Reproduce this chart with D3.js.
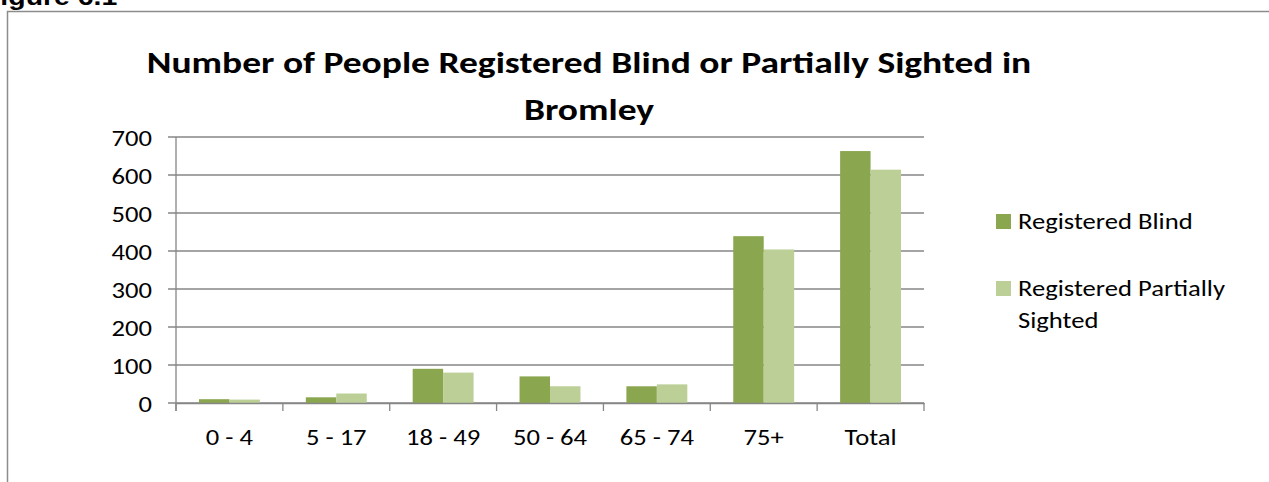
<!DOCTYPE html>
<html>
<head>
<meta charset="utf-8">
<script src="https://cdn.jsdelivr.net/npm/d3@7"></script>
<style>
  body { margin: 0; background: #ffffff; }
  text { font-family: Carlito, Lato, "Open Sans", sans-serif; }
</style>
</head>
<body>
<div id="canvas"></div>
<script>
"use strict"

// chart values
let categories = ["0 - 4", "5 - 17", "18 - 49", "50 - 64", "65 - 74", "75+", "Total"];
let blindValues = [10, 15, 90, 70, 44, 439, 663];
let partialValues = [9, 25, 80, 44, 49, 404, 614];
let seriesNames = ["Registered Blind", "Registered Partially Sighted"];
let yTicks = [0, 100, 200, 300, 400, 500, 600, 700];

let drawingWidth = 1269;
let drawingHeight = 482;

let plotLeft = 176;
let plotRight = 924;
let plotTop = 137;
let plotBottom = 403;

let stretch = 1.21; // the picture is wider than the font, so text is stretched sideways

let blindColour = "#8aa64f";
let partialColour = "#bbcf97";
let lineColour = "#868686";

let drawing = d3.select("#canvas")
    .append("svg")
    .attr("width", drawingWidth)
    .attr("height", drawingHeight);

function place(x, y) {
    return "translate(" + x + "," + y + ") scale(" + stretch + ",1)";
}

/* figure caption, cut off at the top left like the picture */
drawing.append("text")
    .attr("transform", place(-17, 5))
    .style("font-family", "'Liberation Sans', Arial, sans-serif")
    .attr("font-weight", "bold")
    .attr("font-size", 23.5)
    .attr("fill", "#000")
    .text("Figure 6.1");

/* frame round the chart */
drawing.append("path")
    .attr("d", "M7.5," + drawingHeight + " V11.5 H" + drawingWidth)
    .attr("fill", "none")
    .attr("stroke", "#8c8c8c")
    .attr("stroke-width", 1.5);

/* title */
drawing.append("text")
    .attr("transform", place(589, 73))
    .attr("text-anchor", "middle")
    .attr("font-weight", "bold")
    .attr("font-size", 31)
    .attr("fill", "#000")
    .text("Number of People Registered Blind or Partially Sighted in");
drawing.append("text")
    .attr("transform", place(589, 120))
    .attr("text-anchor", "middle")
    .attr("font-weight", "bold")
    .attr("font-size", 31)
    .attr("fill", "#000")
    .text("Bromley");

let x = d3.scaleBand()
    .domain(categories)
    .range([plotLeft, plotRight])
    .paddingInner(0.43)
    .paddingOuter(0.215);

let xInner = d3.scaleBand()
    .domain(seriesNames)
    .range([0, x.bandwidth()]);

let y = d3.scaleLinear()
    .domain([0, 700])
    .range([plotBottom, plotTop]);

/* gridlines */
drawing.append("g")
    .selectAll("line")
    .data(yTicks)
    .join("line")
    .attr("x1", plotLeft - 8)
    .attr("x2", plotRight)
    .attr("y1", d => y(d))
    .attr("y2", d => y(d))
    .attr("stroke", lineColour)
    .attr("stroke-width", 1.3);

/* y axis labels */
drawing.append("g")
    .selectAll("text")
    .data(yTicks)
    .join("text")
    .attr("transform", d => place(152, y(d) + 8.5))
    .attr("text-anchor", "end")
    .attr("font-size", 22)
    .attr("fill", "#000")
    .text(d => d);

/* bars */
let barData = [];
categories.forEach(function (c, i) {
    barData.push({ cat: c, series: seriesNames[0], value: blindValues[i], colour: blindColour });
    barData.push({ cat: c, series: seriesNames[1], value: partialValues[i], colour: partialColour });
});

drawing.append("g")
    .selectAll("rect")
    .data(barData)
    .join("rect")
    .attr("x", d => x(d.cat) + xInner(d.series))
    .attr("y", d => y(d.value))
    .attr("width", xInner.bandwidth())
    .attr("height", d => y(0) - y(d.value))
    .attr("fill", d => d.colour);

/* y axis line */
drawing.append("line")
    .attr("x1", plotLeft).attr("x2", plotLeft)
    .attr("y1", plotTop).attr("y2", plotBottom + 8)
    .attr("stroke", lineColour)
    .attr("stroke-width", 1.3);

/* x axis, labels under each group */
let xAxisGroup = drawing.append("g")
    .attr("transform", "translate(0," + plotBottom + ")")
    .attr("font-family", null)
    .call(d3.axisBottom(x).tickSize(0).tickPadding(0));
xAxisGroup.select(".domain")
    .attr("stroke", lineColour)
    .attr("stroke-width", 1.3);
xAxisGroup.selectAll(".tick text")
    .attr("y", 42)
    .attr("dy", null)
    .attr("transform", "scale(" + stretch + ",1)")
    .attr("font-size", 22)
    .attr("fill", "#000");

/* tick marks between the groups */
let step = (plotRight - plotLeft) / categories.length;
drawing.append("g")
    .selectAll("line")
    .data(d3.range(categories.length + 1))
    .join("line")
    .attr("x1", d => plotLeft + d * step)
    .attr("x2", d => plotLeft + d * step)
    .attr("y1", plotBottom)
    .attr("y2", plotBottom + 8)
    .attr("stroke", lineColour)
    .attr("stroke-width", 1.3);

/* legend */
let legend = drawing.append("g");
let legendRows = [
    { lines: ["Registered Blind"], colour: blindColour, y: 214 },
    { lines: ["Registered Partially", "Sighted"], colour: partialColour, y: 281 }
];
legendRows.forEach(function (row) {
    legend.append("rect")
        .attr("x", 996)
        .attr("y", row.y)
        .attr("width", 15)
        .attr("height", 15)
        .attr("fill", row.colour);
    row.lines.forEach(function (ln, i) {
        legend.append("text")
            .attr("transform", place(1018, row.y + 15 + i * 32))
            .attr("font-size", 22)
            .attr("fill", "#000")
            .text(ln);
    });
});
</script>
</body>
</html>
